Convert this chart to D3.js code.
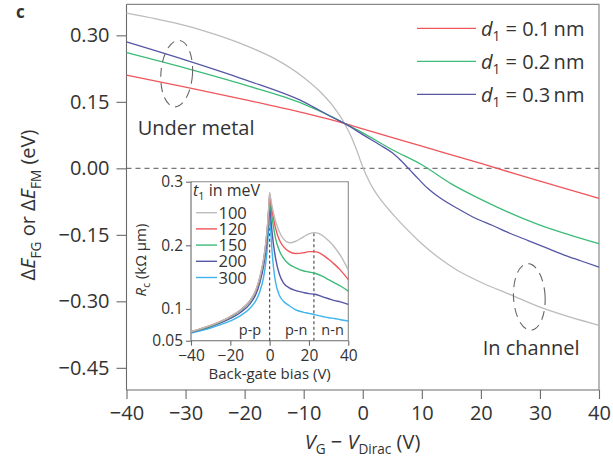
<!DOCTYPE html>
<html>
<head>
<meta charset="utf-8">
<script src="https://cdn.jsdelivr.net/npm/d3@7"></script>
<style>
  body { margin: 0; background: #fff; }
  svg { display: block; }
  text { font-family: "Open Sans", sans-serif; fill: #333; }
</style>
</head>
<body>
<svg id="chart" width="613" height="471"></svg>
<script>
// ---- Main panel: Fermi-level shift vs gate voltage ----
const gateRed   = [-40, -30, -20, -10, -3, 0, 10, 20, 30, 40];
const shiftRed  = [0.210, 0.183, 0.155, 0.125, 0.101, 0.089, 0.050, 0.011, -0.029, -0.068];

const gateGreen  = [-40, -30, -20, -10, -5, -3, 0, 5, 10, 15, 20, 25, 30, 35, 40];
const shiftGreen = [0.261, 0.226, 0.188, 0.145, 0.115, 0.101, 0.080, 0.042, 0.008, -0.035, -0.070, -0.101, -0.128, -0.150, -0.170];

const gateBlue  = [-40, -30, -20, -10, -5, -3, 0, 3, 5, 6.5, 8, 9.5, 11, 13, 16.5, 19, 22, 25, 28, 31, 34, 37, 40];
const shiftBlue = [0.285, 0.244, 0.200, 0.150, 0.114, 0.101, 0.076, 0.052, 0.035, 0.017, -0.004, -0.025, -0.045, -0.066, -0.094, -0.112, -0.129, -0.147, -0.163, -0.179, -0.195, -0.209, -0.223];

const gateGray  = [-40, -35, -30, -25, -20, -15, -10, -7, -5, -4, -3, -2, -1, 0, 1, 2, 3, 5, 7, 10, 13, 16, 20, 25, 30, 35, 40];
const shiftGray = [0.350, 0.337, 0.322, 0.302, 0.278, 0.248, 0.205, 0.170, 0.140, 0.121, 0.099, 0.073, 0.040, 0.003, -0.027, -0.051, -0.070, -0.102, -0.131, -0.170, -0.203, -0.230, -0.257, -0.285, -0.313, -0.335, -0.354];

const legendLabels = ["0.1", "0.2", "0.3"];
const mainXTicks = [-40, -30, -20, -10, 0, 10, 20, 30, 40];
const mainYTicks = [0.30, 0.15, 0.00, -0.15, -0.30, -0.45];

// ---- Inset: contact resistance vs back-gate bias ----
const backGate = [-40, -30, -20, -15, -10, -7, -5, -3, -2, -1, -0.5, 0, 0.5, 1, 2, 3, 5, 7, 10, 13, 17, 20, 23, 27, 30, 33, 36, 40];
const rc100 = [0.064, 0.074, 0.088, 0.098, 0.113, 0.130, 0.150, 0.180, 0.203, 0.235, 0.258, 0.283, 0.274, 0.265, 0.250, 0.238, 0.221, 0.210, 0.204, 0.206, 0.213, 0.218, 0.220, 0.215, 0.207, 0.197, 0.184, 0.161];
const rc120 = [0.064, 0.074, 0.088, 0.098, 0.113, 0.129, 0.149, 0.179, 0.202, 0.234, 0.257, 0.281, 0.270, 0.259, 0.242, 0.227, 0.208, 0.198, 0.190, 0.187, 0.188, 0.190, 0.190, 0.185, 0.178, 0.170, 0.161, 0.146];
const rc150 = [0.064, 0.073, 0.087, 0.097, 0.112, 0.128, 0.147, 0.177, 0.200, 0.231, 0.254, 0.277, 0.263, 0.249, 0.228, 0.211, 0.191, 0.180, 0.170, 0.165, 0.160, 0.158, 0.156, 0.151, 0.146, 0.141, 0.136, 0.128];
const rc200 = [0.063, 0.072, 0.085, 0.094, 0.108, 0.123, 0.141, 0.169, 0.190, 0.220, 0.243, 0.266, 0.246, 0.228, 0.200, 0.180, 0.154, 0.141, 0.133, 0.129, 0.126, 0.124, 0.123, 0.119, 0.116, 0.113, 0.111, 0.107];
const rc300 = [0.062, 0.070, 0.081, 0.089, 0.101, 0.113, 0.127, 0.151, 0.172, 0.203, 0.227, 0.250, 0.224, 0.200, 0.164, 0.142, 0.121, 0.112, 0.105, 0.099, 0.095, 0.093, 0.091, 0.088, 0.086, 0.085, 0.083, 0.081];
const hoppingLabels = ["100", "120", "150", "200", "300"];
const insetXTicks = [-40, -20, 0, 20, 40];
const insetYTicks = [0.05, 0.1, 0.2, 0.3];
const chargePeak = 0;      // Dirac point of the channel
const junctionPeak = 22.5; // Dirac point under the metal
const regionLabels = ["p-p", "p-n", "n-n"];
const regionCentres = [-10, 13.5, 32];

const colRed = "#f0555b", colGreen = "#3dbb78", colBlue = "#5656a6", colGray = "#bcbcbc", colCyan = "#3db4ec";
const axisCol = "#6a6a6a";

const svg = d3.select("#chart");

// helper: write text made of plain / italic / subscript pieces
function richText(sel, parts, size) {
  const shift = size * 0.28;
  let pending = 0;
  parts.forEach(p => {
    const t = sel.append("tspan").text(p.t);
    if (p.i) t.attr("font-style", "italic");
    let dy = pending;
    pending = 0;
    if (p.sub) {
      t.attr("font-size", size * 0.68);
      dy += shift;
      pending = -shift;
    }
    if (dy) t.attr("dy", dy);
  });
  return sel;
}

// ---------- main panel ----------
const x = d3.scaleLinear().domain([-40, 40]).range([126.5, 599]);
const y = d3.scaleLinear().domain([-0.5, 0.37]).range([390, 4.3]);

const main = svg.append("g");

// frame (top and right)
main.append("path")
  .attr("d", `M${x(-40)},${y(0.37)}H${x(40)}V${y(-0.5)}`)
  .attr("fill", "none").attr("stroke", "#8a8a8a").attr("stroke-width", 1.2);

// zero reference
main.append("line")
  .attr("x1", x(-40)).attr("x2", x(40)).attr("y1", y(0)).attr("y2", y(0))
  .attr("stroke", "#777").attr("stroke-width", 1.1).attr("stroke-dasharray", "5,4");

// axes
const xMinor = d3.range(-35, 40, 10);
const yMinor = d3.range(-0.5, 0.37, 0.05).filter(v => !mainYTicks.some(t => Math.abs(t - v) < 1e-6));

const gx = main.append("g").attr("transform", `translate(0,${y(-0.5)})`);
gx.call(d3.axisBottom(x).tickValues(xMinor).tickSize(5).tickFormat(""));
gx.call(d3.axisBottom(x).tickValues(mainXTicks).tickSize(9).tickPadding(7).tickFormat(d => d < 0 ? "\u2212" + Math.abs(d) : d));
const gy = main.append("g").attr("transform", `translate(${x(-40)},0)`);
gy.call(d3.axisLeft(y).tickValues(yMinor).tickSize(5).tickFormat(""));
gy.call(d3.axisLeft(y).tickValues(mainYTicks).tickSize(10).tickPadding(7)
  .tickFormat(d => (d < 0 ? "\u2212" : "") + Math.abs(d).toFixed(2)));
main.selectAll(".domain, .tick line").attr("stroke", axisCol).attr("stroke-width", 1.1);
main.selectAll(".tick text").attr("font-size", 20).attr("fill", "#333")
  .attr("font-family", "'Open Sans', sans-serif");
gx.selectAll(".tick text").attr("dy", "0.72em");
gy.selectAll(".domain").attr("d", `M0,${y(0.37)}V${y(-0.5)}`);
gx.selectAll(".domain").attr("d", `M${x(-40)},0H${x(40)}`);

// curves
const mainLine = d3.line().x(d => x(d[0])).y(d => y(d[1])).curve(d3.curveMonotoneX);
const mainSeries = [
  [gateGray, shiftGray, colGray],
  [gateRed, shiftRed, colRed],
  [gateGreen, shiftGreen, colGreen],
  [gateBlue, shiftBlue, colBlue]
];
mainSeries.forEach(([gx_, gy_, c]) => {
  main.append("path").datum(d3.zip(gx_, gy_)).attr("d", mainLine)
    .attr("fill", "none").attr("stroke", c).attr("stroke-width", 1.3);
});

// dashed ellipses marking the two regions
[[-31.5, 0.2136, -4], [28.2, -0.290, 3]].forEach(([cx, cy, rot]) => {
  main.append("ellipse")
    .attr("transform", `translate(${x(cx)},${y(cy)}) rotate(${-rot})`)
    .attr("rx", 15.8).attr("ry", 33.3)
    .attr("fill", "none").attr("stroke", "#666").attr("stroke-width", 1.1)
    .attr("stroke-dasharray", "9,6");
});

main.append("text").attr("x", x(-38.1)).attr("y", y(0.0744)).attr("font-size", 20).text("Under metal");
main.append("text").attr("x", x(20.3)).attr("y", y(-0.422)).attr("font-size", 20).text("In channel");

// legend
[colRed, colGreen, colBlue].forEach((c, i) => {
  const ly = 28.3 + i * 33;
  main.append("line").attr("x1", 417).attr("x2", 476).attr("y1", ly).attr("y2", ly)
    .attr("stroke", c).attr("stroke-width", 1.3);
  const t = main.append("text").attr("x", 481).attr("y", ly + 7.5).attr("font-size", 20);
  richText(t, [{ t: "d", i: true }, { t: "1", sub: true }, { t: " = " + legendLabels[i] + "\u2009nm" }], 20);
});

// axis titles
const xt = main.append("text").attr("x", 362.5).attr("y", 448.5).attr("font-size", 20).attr("text-anchor", "middle");
richText(xt, [{ t: "V", i: true }, { t: "G", sub: true }, { t: " \u2212 " }, { t: "V", i: true }, { t: "Dirac", sub: true }, { t: " (V)" }], 20);

const yt = main.append("text").attr("transform", "translate(35,205) rotate(-90)")
  .attr("font-size", 20).attr("text-anchor", "middle");
richText(yt, [{ t: "\u0394" }, { t: "E", i: true }, { t: "FG", sub: true }, { t: " or \u0394" }, { t: "E", i: true }, { t: "FM", sub: true }, { t: " (eV)" }], 20);

svg.append("text").attr("x", 16).attr("y", 18).attr("font-size", 17).attr("font-weight", "bold")
  .attr("fill", "#222").text("c");

// ---------- inset ----------
const ix = d3.scaleLinear().domain([-40, 40]).range([191, 348.3]);
const iy = d3.scaleLinear().domain([0.05, 0.3]).range([340.7, 181.7]);
const inset = svg.append("g");

inset.append("path")
  .attr("d", `M${ix(-40)},${iy(0.3)}H${ix(40)}V${iy(0.05)}`)
  .attr("fill", "#fff").attr("stroke", "#8a8a8a").attr("stroke-width", 1.1);

const igx = inset.append("g").attr("transform", `translate(0,${iy(0.05)})`);
igx.call(d3.axisBottom(ix).tickValues([-30, -10, 10, 30]).tickSize(3).tickFormat(""));
igx.call(d3.axisBottom(ix).tickValues(insetXTicks).tickSize(5).tickPadding(4)
  .tickFormat(d => d < 0 ? "\u2212" + Math.abs(d) : d));
const igy = inset.append("g").attr("transform", `translate(${ix(-40)},0)`);
igy.call(d3.axisLeft(iy).tickValues(d3.range(0.06, 0.3, 0.02).filter(v => Math.abs(v - 0.1) > 1e-6 && Math.abs(v - 0.2) > 1e-6)).tickSize(3).tickFormat(""));
igy.call(d3.axisLeft(iy).tickValues(insetYTicks).tickSize(5).tickPadding(3).tickFormat(d => d === 0.05 ? "0.05" : d.toFixed(1)));
inset.selectAll(".domain, .tick line").attr("stroke", axisCol).attr("stroke-width", 1.1);
inset.selectAll(".tick text").attr("font-size", 15.5).attr("fill", "#333")
  .attr("font-family", "'Open Sans', sans-serif");
igx.selectAll(".tick text").attr("dy", "0.72em");
igy.selectAll(".domain").attr("d", `M0,${iy(0.3)}V${iy(0.05)}`);
igx.selectAll(".domain").attr("d", `M${ix(-40)},0H${ix(40)}`);

// dashed markers at the two Dirac points
const peakTop100 = d3.max(rc100);
inset.append("line").attr("x1", ix(chargePeak)).attr("x2", ix(chargePeak))
  .attr("y1", iy(0.05)).attr("y2", iy(peakTop100))
  .attr("stroke", "#444").attr("stroke-width", 1.1).attr("stroke-dasharray", "3,2.5");
inset.append("line").attr("x1", ix(junctionPeak)).attr("x2", ix(junctionPeak))
  .attr("y1", iy(0.05)).attr("y2", iy(0.220))
  .attr("stroke", "#777").attr("stroke-width", 1.5).attr("stroke-dasharray", "3,2.5");

const insetLine = d3.line().x(d => ix(d[0])).y(d => iy(d[1])).curve(d3.curveMonotoneX);
const insetSeries = [[rc300, colCyan], [rc200, colBlue], [rc150, colGreen], [rc120, colRed], [rc100, colGray]];
insetSeries.forEach(([vals, c]) => {
  inset.append("path").datum(d3.zip(backGate, vals)).attr("d", insetLine)
    .attr("fill", "none").attr("stroke", c).attr("stroke-width", 1.4);
});

// inset legend
const it = inset.append("text").attr("x", 193).attr("y", 196).attr("font-size", 16);
richText(it, [{ t: "t", i: true }, { t: "1", sub: true }, { t: " in meV" }], 16);
[colGray, colRed, colGreen, colBlue, colCyan].forEach((c, i) => {
  const ly = 212.7 + i * 16.2;
  inset.append("line").attr("x1", 196).attr("x2", 217).attr("y1", ly).attr("y2", ly)
    .attr("stroke", c).attr("stroke-width", 1.4);
  inset.append("text").attr("x", 218.5).attr("y", ly + 6).attr("font-size", 16.5).text(hoppingLabels[i]);
});

regionLabels.forEach((lab, i) => {
  inset.append("text").attr("x", ix(regionCentres[i])).attr("y", 335).attr("text-anchor", "middle")
    .attr("font-size", 14.5).text(lab);
});

inset.append("text").attr("x", ix(0)).attr("y", 379).attr("text-anchor", "middle").attr("font-size", 15)
  .text("Back-gate bias (V)");
const iyt = inset.append("text").attr("transform", "translate(146,260) rotate(-90)")
  .attr("font-size", 15).attr("text-anchor", "middle");
richText(iyt, [{ t: "R", i: true }, { t: "c", sub: true }, { t: " (k\u03a9 \u03bcm)" }], 15);
</script>
</body>
</html>
